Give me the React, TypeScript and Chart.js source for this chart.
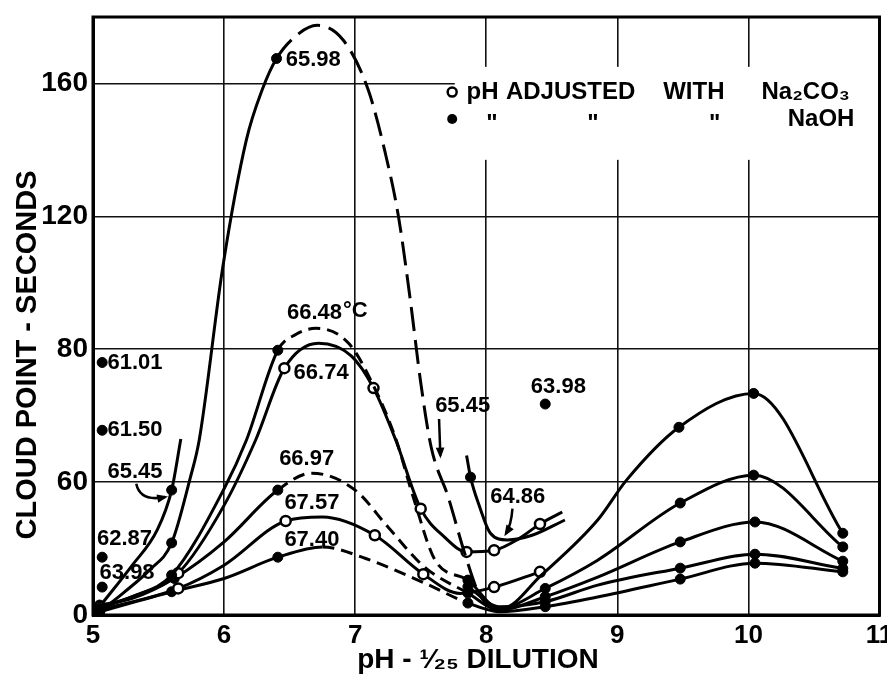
import React, { useEffect, useRef } from "react";
import { Chart, registerables } from "chart.js";
Chart.register(...registerables);

const W = 887;
const H = 676;
const FONT = '"Liberation Sans", Arial, "DejaVu Sans", sans-serif';

// axes
const xTicks = [5, 6, 7, 8, 9, 10, 11];
const xTickLabels = ["5", "6", "7", "8", "9", "10", "11"];
const yTicks = [0, 40, 80, 120, 160];
const yTickLabels = ["0", "60", "80", "120", "160"];

// NaOH 65.98
const ph6598 = [5.05, 5.23, 5.43, 5.6, 5.74, 5.81, 5.99, 6.17, 6.29, 6.4, 6.57, 6.71, 6.91, 7.1, 7.23, 7.33, 7.42, 7.5, 7.58, 7.71, 7.84, 7.95, 8.12, 8.42, 8.85, 9.07, 9.47, 10.04, 10.72];
const cp6598 = [1, 6.6, 13.5, 21.7, 41, 52.6, 104.7, 143, 158, 167.5, 175, 177.5, 173, 158, 139, 120, 95, 70, 50.5, 35.5, 18, 6, 2, 12, 28.6, 40.6, 56.5, 66.7, 24.6];
const mk6598 = [0, 3, 9, 26, 27, 28];
const ds6598 = [9, 10, 11, 12, 13, 14, 15, 16, 17, 18, 19, 20];

// NaOH 66.48
const ph6648 = [5.05, 5.3, 5.6, 6.0, 6.17, 6.41, 6.55, 6.7, 6.95, 7.14, 7.31, 7.45, 7.61, 7.86, 8.1, 8.45, 8.85, 9.48, 10.04, 10.72];
const cp6648 = [2, 5.5, 12, 38, 52.6, 79.7, 84.5, 86.3, 81.8, 69, 53, 34.6, 16.5, 10.5, 2, 8, 16.5, 33.7, 42.1, 20.5];
const mk6648 = [0, 2, 5, 13, 15, 17, 18, 19];
const ds6648 = [5, 6, 7, 8, 9, 10, 11, 12];

// Na2CO3 66.74
const ph6674 = [5.05, 5.3, 5.65, 6.0, 6.24, 6.46, 6.72, 6.97, 7.14, 7.31, 7.5, 7.68, 7.85, 8.06, 8.25, 8.41, 8.58];
const cp6674 = [2.5, 5.5, 12.6, 33, 52.6, 74.3, 81.8, 78, 68.3, 52.6, 32, 23.5, 19, 19.5, 23, 27.4, 31];
const mk6674 = [0, 2, 5, 8, 10, 12, 13, 15];

// NaOH 66.97
const ph6697 = [5.05, 5.3, 5.62, 6.0, 6.41, 6.67, 7.0, 7.25, 7.53, 7.86, 8.1, 8.45, 8.85, 9.48, 10.05, 10.72];
const cp6697 = [3, 5, 11, 22, 37.6, 42.7, 37.6, 26.5, 14.4, 6.6, 1.5, 5.5, 11.4, 22, 28, 16.2];
const mk6697 = [0, 2, 4, 9, 11, 13, 14, 15];
const ds6697 = [4, 5, 6, 7, 8];

// Na2CO3 67.57
const ph6757 = [5.05, 5.65, 6.0, 6.47, 6.75, 7.15, 7.52, 7.8, 8.06, 8.41];
const cp6757 = [1.5, 8, 15, 28.3, 29.5, 24, 12.3, 6.5, 8.4, 13];
const mk6757 = [0, 1, 3, 5, 6, 8, 9];

// NaOH 67.40
const ph6740 = [5.05, 5.6, 6.0, 6.41, 6.75, 7.08, 7.53, 7.86, 8.1, 8.45, 8.85, 9.48, 10.05, 10.72];
const cp6740 = [1, 7, 11, 17.4, 20.5, 17, 9.6, 3.6, 1, 2.5, 5.4, 10.8, 15.6, 13];
const mk6740 = [0, 1, 3, 7, 9, 11, 12, 13];
const ds6740 = [4, 5, 6];

// NaOH, right branch
const phR4 = [7.86, 8.1, 8.45, 8.85, 9.48, 10.05, 10.72];
const cpR4 = [8.5, 2.5, 4, 9, 14.1, 18.3, 14];
const mkR4 = [0, 2, 4, 5, 6];

// NaOH 65.45 (two pieces)
const ph6545a = [5.05, 5.3, 5.49, 5.6, 5.67];
const cp6545a = [2.5, 15, 25.6, 37.6, 53];
const mk6545a = [0, 3];
const ph6545b = [7.85, 7.88, 7.95, 8.03, 8.16, 8.35, 8.6];
const cp6545b = [48, 41.5, 32.5, 24.7, 22.6, 24, 28.6];
const mk6545b = [1];

// isolated NaOH points
const phIso = [5.07, 5.07, 5.07, 5.07, 8.45];
const cpIso = [76, 55.6, 17.4, 8.4, 63.5];

// text labels
const labelText = ["65.98", "66.48", "66.74", "66.97", "67.57", "67.40", "61.01", "61.50", "65.45", "62.87", "63.98", "65.45", "63.98", "64.86"];
const labelPH = [6.47, 6.48, 6.53, 6.42, 6.46, 6.46, 5.11, 5.11, 5.11, 5.03, 5.05, 7.61, 8.34, 8.03];
const labelCP = [167.2, 90.8, 72.8, 46.9, 33.7, 22.6, 76, 55.6, 43, 23, 12.6, 62.9, 68.6, 35.5];

// arrows (start, control, end)
const arrowPH = [[5.33, 5.36, 5.55], [7.64, 7.645, 7.65], [8.2, 8.19, 8.15]];
const arrowCP = [[39.5, 34.0, 35.5], [59, 54, 48], [32, 27, 24.5]];

// legend
const legendRowCP = [157.4, 149.3];
const legendMarkPH = 7.74;
const legendRow1Words = ["pH", "ADJUSTED", "WITH", "Na\u2082CO\u2083"];
const legendRow1PH = [7.85, 8.15, 9.35, 10.1];
const legendRow2Words = ['"', '"', '"', "NaOH"];
const legendRow2PH = [8.0, 8.77, 9.7, 10.3];
const legendBoxPH = [7.76, 11];
const legendBoxCP = [137, 165];

function curve(ph: number[], cp: number[], marks: number[], dash: number[], open: boolean, pattern: number[]) {
  const m = new Set(marks);
  const d = new Set(dash);
  return {
    data: ph.map((x, i) => ({ x, y: cp[i] })),
    showLine: true,
    borderColor: "#000",
    borderWidth: 3,
    cubicInterpolationMode: "monotone",
    fill: false,
    pointRadius: (ctx: any) => (m.has(ctx.dataIndex) ? 5 : 0),
    pointHoverRadius: 0,
    pointBackgroundColor: open ? "#fff" : "#000",
    pointBorderColor: "#000",
    pointBorderWidth: open ? 2.5 : 1,
    segment: {
      borderDash: (ctx: any) => (d.has(ctx.p0DataIndex) ? pattern : undefined),
    },
  };
}

const decor = {
  id: "decor",
  beforeDraw(chart: any) {
    const c = chart.ctx;
    c.save();
    c.fillStyle = "#fff";
    c.fillRect(0, 0, chart.width, chart.height);
    c.restore();
  },
  beforeDatasetsDraw(chart: any) {
    const c = chart.ctx;
    const xs = chart.scales.x;
    const ys = chart.scales.y;
    const px = (v: number) => xs.getPixelForValue(v);
    const py = (v: number) => ys.getPixelForValue(v);
    c.save();
    c.fillStyle = "#fff";
    const x0 = px(legendBoxPH[0]);
    const x1 = px(legendBoxPH[1]);
    const y0 = py(legendBoxCP[1]);
    const y1 = py(legendBoxCP[0]);
    c.fillRect(x0, y0, x1 - x0, y1 - y0);
    c.strokeStyle = "#000";
    c.lineWidth = 2.5;
    c.beginPath();
    c.arc(px(legendMarkPH), py(legendRowCP[0]), 4.5, 0, Math.PI * 2);
    c.stroke();
    c.fillStyle = "#000";
    c.beginPath();
    c.arc(px(legendMarkPH), py(legendRowCP[1]), 5, 0, Math.PI * 2);
    c.fill();
    c.font = `bold 24px ${FONT}`;
    c.textBaseline = "middle";
    c.textAlign = "left";
    legendRow1Words.forEach((w, i) => c.fillText(w, px(legendRow1PH[i]), py(legendRowCP[0])));
    legendRow2Words.forEach((w, i) => c.fillText(w, px(legendRow2PH[i]), py(legendRowCP[1]) + (i < 3 ? 5 : 0)));
    c.restore();
  },
  afterDatasetsDraw(chart: any) {
    const c = chart.ctx;
    const xs = chart.scales.x;
    const ys = chart.scales.y;
    const px = (v: number) => xs.getPixelForValue(v);
    const py = (v: number) => ys.getPixelForValue(v);
    const a = chart.chartArea;
    c.save();
    c.fillStyle = "#000";
    c.font = `bold 22px ${FONT}`;
    c.textBaseline = "middle";
    c.textAlign = "left";
    labelText.forEach((t, i) => {
      const x = px(labelPH[i]);
      const y = py(labelCP[i]);
      c.fillText(t, x, y);
      if (i === 1) {
        const w = c.measureText(t).width;
        c.fillText("\u00B0C", x + w + 1, y - 2);
      }
    });
    c.strokeStyle = "#000";
    c.lineWidth = 2.5;
    arrowPH.forEach((ar, i) => {
      const p0 = [px(ar[0]), py(arrowCP[i][0])];
      const p1 = [px(ar[1]), py(arrowCP[i][1])];
      const p2 = [px(ar[2]), py(arrowCP[i][2])];
      c.beginPath();
      c.moveTo(p0[0], p0[1]);
      c.quadraticCurveTo(p1[0], p1[1], p2[0], p2[1]);
      c.stroke();
      const ang = Math.atan2(p2[1] - p1[1], p2[0] - p1[0]);
      c.beginPath();
      c.moveTo(p2[0] + 3 * Math.cos(ang), p2[1] + 3 * Math.sin(ang));
      c.lineTo(p2[0] - 9 * Math.cos(ang - 0.5), p2[1] - 9 * Math.sin(ang - 0.5));
      c.lineTo(p2[0] - 9 * Math.cos(ang + 0.5), p2[1] - 9 * Math.sin(ang + 0.5));
      c.closePath();
      c.fill();
    });
    c.lineWidth = 3;
    c.strokeRect(a.left, a.top, a.right - a.left, a.bottom - a.top);
    c.restore();
  },
  afterDraw(chart: any) {
    const c = chart.ctx;
    c.save();
    c.fillStyle = "#000";
    c.font = `bold 28px ${FONT}`;
    c.textAlign = "center";
    c.textBaseline = "middle";
    c.fillText("pH - \u00B9\u2044\u2082\u2085 DILUTION", 478, 660);
    c.translate(28, 355);
    c.rotate(-Math.PI / 2);
    c.font = `bold 29px ${FONT}`;
    c.fillText("CLOUD POINT - SECONDS", 0, 0);
    c.restore();
  },
};

function labelFor(vals: number[], labels: string[], v: number) {
  const i = vals.indexOf(Number(v));
  return i >= 0 ? labels[i] : "";
}

export default function App() {
  const ref = useRef<HTMLCanvasElement>(null);
  useEffect(() => {
    const datasets: any[] = [
      curve(ph6598, cp6598, mk6598, ds6598, false, [24, 9]),
      curve(ph6648, cp6648, mk6648, ds6648, false, [12, 7]),
      curve(ph6674, cp6674, mk6674, [], true, []),
      curve(ph6697, cp6697, mk6697, ds6697, false, [12, 7]),
      curve(ph6757, cp6757, mk6757, [], true, []),
      curve(ph6740, cp6740, mk6740, ds6740, false, [12, 7]),
      curve(phR4, cpR4, mkR4, [], false, []),
      curve(ph6545a, cp6545a, mk6545a, [], false, []),
      curve(ph6545b, cp6545b, mk6545b, [], false, []),
      {
        data: phIso.map((x, i) => ({ x, y: cpIso[i] })),
        showLine: false,
        pointRadius: 5,
        pointBackgroundColor: "#000",
        pointBorderColor: "#000",
      },
    ];
    const chart = new Chart(ref.current as HTMLCanvasElement, {
      type: "line",
      data: { datasets },
      options: {
        animation: false,
        responsive: false,
        events: [],
        layout: { padding: { top: 17, right: 7, left: 0, bottom: 0 } },
        plugins: { legend: { display: false }, tooltip: { enabled: false } },
        scales: {
          x: {
            type: "linear",
            min: 5,
            max: 11,
            afterBuildTicks: (s: any) => {
              s.ticks = xTicks.map((v) => ({ value: v }));
            },
            afterFit: (s: any) => {
              s.height = 61;
              s.paddingLeft = 0;
              s.paddingRight = 0;
            },
            ticks: {
              callback: (v: any) => labelFor(xTicks, xTickLabels, v),
              font: { family: FONT, size: 26, weight: "bold" },
              color: "#000",
              padding: 5,
              maxRotation: 0,
              autoSkip: false,
            },
            grid: { color: "#111", lineWidth: 1.6, drawTicks: false },
            border: { color: "#000", width: 3 },
          },
          y: {
            type: "linear",
            min: 0,
            max: 180,
            afterBuildTicks: (s: any) => {
              s.ticks = yTicks.map((v) => ({ value: v }));
            },
            afterFit: (s: any) => {
              s.width = 93;
              s.paddingTop = 0;
              s.paddingBottom = 0;
            },
            ticks: {
              callback: (v: any) => labelFor(yTicks, yTickLabels, v),
              font: { family: FONT, size: 28, weight: "bold" },
              color: "#000",
              padding: 5,
              autoSkip: false,
            },
            grid: { color: "#111", lineWidth: 1.6, drawTicks: false },
            border: { color: "#000", width: 3 },
          },
        },
      } as any,
      plugins: [decor],
    } as any);
    return () => chart.destroy();
  }, []);
  return (
    <div style={{ position: "fixed", left: 0, top: 0, width: W, height: H, background: "#fff" }}>
      <canvas ref={ref} width={W} height={H} style={{ width: W, height: H, display: "block" }} />
    </div>
  );
}
